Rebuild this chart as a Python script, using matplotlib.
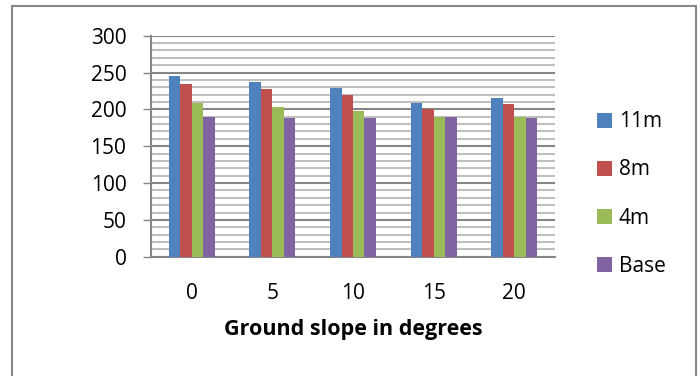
import numpy as np
import matplotlib
matplotlib.use('Agg')

import matplotlib.pyplot as plt
from matplotlib.patches import Rectangle

slopes = ['0', '5', '10', '15', '20']
h11 = [245, 237, 229, 208, 216]
h8 = [235, 227, 219, 201, 207]
h4 = [209, 203, 198, 189, 189]
base = [190, 188, 188, 189, 188]

series = [('11m', h11, '#4f81bd'), ('8m', h8, '#c0504d'),
          ('4m', h4, '#9bbb59'), ('Base', base, '#8064a2')]

plt.rcParams['font.family'] = ['Open Sans', 'DejaVu Sans']

fig = plt.figure(figsize=(7, 3.76), dpi=100)
ax = fig.add_axes([151.4/700, 1-256.7/376, (554.6-151.4)/700, (256.7-35.7)/376])

x = np.arange(len(slopes))
w = 0.1426
for i, (name, vals, col) in enumerate(series):
    ax.bar(x + (i - 1.5)*w, vals, w, color=col, label=name, zorder=3)

ax.set_xlim(-0.5, 4.5)
ax.set_ylim(0, 300)
ax.set_yticks(range(0, 301, 50))
ax.set_yticks(range(0, 301, 10), minor=True)
ax.grid(axis='y', which='major', color='#868686', lw=1.5, zorder=1)
ax.grid(axis='y', which='minor', color='#bfbfbf', lw=1.5, zorder=0)
ax.tick_params(axis='y', which='major', length=6, width=1, color='#868686',
               labelsize=15, pad=12)
ax.tick_params(axis='y', which='minor', length=0)
ax.set_xticks(x)
ax.set_xticklabels(slopes)
ax.tick_params(axis='x', length=0, labelsize=15, pad=19)
for s in ['top', 'right']:
    ax.spines[s].set_visible(False)
ax.spines['left'].set_color('#868686')
ax.spines['bottom'].set_color('#868686')
ax.spines['left'].set_linewidth(1.5)
ax.spines['bottom'].set_linewidth(1.5)
ax.set_xlabel('Ground slope in degrees', fontsize=15.5, fontweight='bold', labelpad=11)

fig.legend(loc='center left', bbox_to_anchor=(589/700, 1-194/376), frameon=False,
           fontsize=15, handlelength=0.72, handleheight=0.72, handletextpad=0.3,
           labelspacing=1.3, borderaxespad=0)

fig.patches.append(Rectangle((12/700, -0.1), (696-12)/700, 1.1-6/376,
                             transform=fig.transFigure, fill=False,
                             edgecolor='#868686', lw=1.5))

plt.savefig('out.png')
